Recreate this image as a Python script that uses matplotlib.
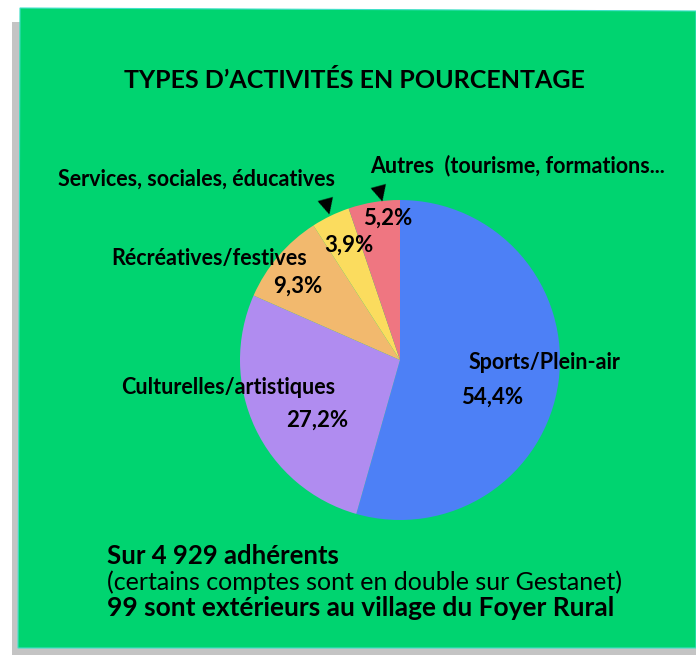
import matplotlib.pyplot as plt
from matplotlib.patches import Polygon

# data
labels = ["Sports/Plein-air", "Culturelles/artistiques", "Récréatives/festives",
          "Services, sociales, éducatives", "Autres  (tourisme, formations..."]
values = [54.4, 27.2, 9.3, 3.9, 5.2]
pct_labels = ["54,4%", "27,2%", "9,3%", "3,9%", "5,2%"]
colors = ["#4d80f6", "#b08cf0", "#f2b96e", "#fbdc5e", "#ef7681"]

W, H = 696, 655
fig = plt.figure(figsize=(W / 100, H / 100), dpi=100)
fig.patch.set_facecolor("white")


def fx(x):
    return x / W


def fy(y):
    return 1 - y / H


# background axes for the card and its shadow
bg = fig.add_axes([0, 0, 1, 1], zorder=-1)
bg.set_xlim(0, 1)
bg.set_ylim(0, 1)
bg.axis("off")
bg.add_patch(Polygon([(fx(12), fy(22)), (fx(696), fy(22)), (fx(696), fy(655)), (fx(12), fy(655))],
                     closed=True, facecolor="#c4c4c4", edgecolor="none"))
bg.add_patch(Polygon([(fx(20), fy(8)), (fx(696), fy(11)), (fx(696), fy(648)), (fx(18), fy(648))],
                     closed=True, facecolor="#00d470", edgecolor="#3fe0c8", linewidth=0.8))

# pie
cx, cy, r = 400, 360, 160
ax = fig.add_axes([fx(cx - r), fy(cy + r), 2 * r / W, 2 * r / H])
ax.pie(values, colors=colors, startangle=90, counterclock=False, radius=1)
ax.set_xlim(-1, 1)
ax.set_ylim(-1, 1)
ax.axis("off")

font = "Lato"

fig.text(fx(354), fy(80), "TYPES D\u2019ACTIVITÉS EN POURCENTAGE", ha="center", va="center",
         fontsize=18, fontweight="bold", family=font)

# category labels
lab_pos = [(544, 362), (228, 388), (209, 259), (197, 179), (518, 166)]
for lab, (x, y) in zip(labels, lab_pos):
    fig.text(fx(x), fy(y), lab, ha="center", va="center", fontsize=15.5,
             fontweight="bold", family=font)

pct_pos = [(492, 397), (317, 420), (298, 286), (349, 245), (388, 218)]
for p, (x, y) in zip(pct_labels, pct_pos):
    fig.text(fx(x), fy(y), p, ha="center", va="center", fontsize=16,
             fontweight="bold", family=font)

# arrows
for x, y in [(327, 207), (380, 194)]:
    fig.text(fx(x), fy(y), "\u25bc", ha="center", va="center", fontsize=15,
             family="DejaVu Sans", rotation=15)

# footer
fig.text(fx(107), fy(556), "Sur 4 929 adhérents", ha="left", va="center",
         fontsize=18.5, fontweight="bold", family=font)
fig.text(fx(107), fy(582), "(certains comptes sont en double sur Gestanet)", ha="left", va="center",
         fontsize=18, fontweight="normal", family=font)
fig.text(fx(107), fy(608), "99 sont extérieurs au village du Foyer Rural", ha="left", va="center",
         fontsize=19, fontweight="bold", family=font)

fig.savefig("out.png", dpi=100)
